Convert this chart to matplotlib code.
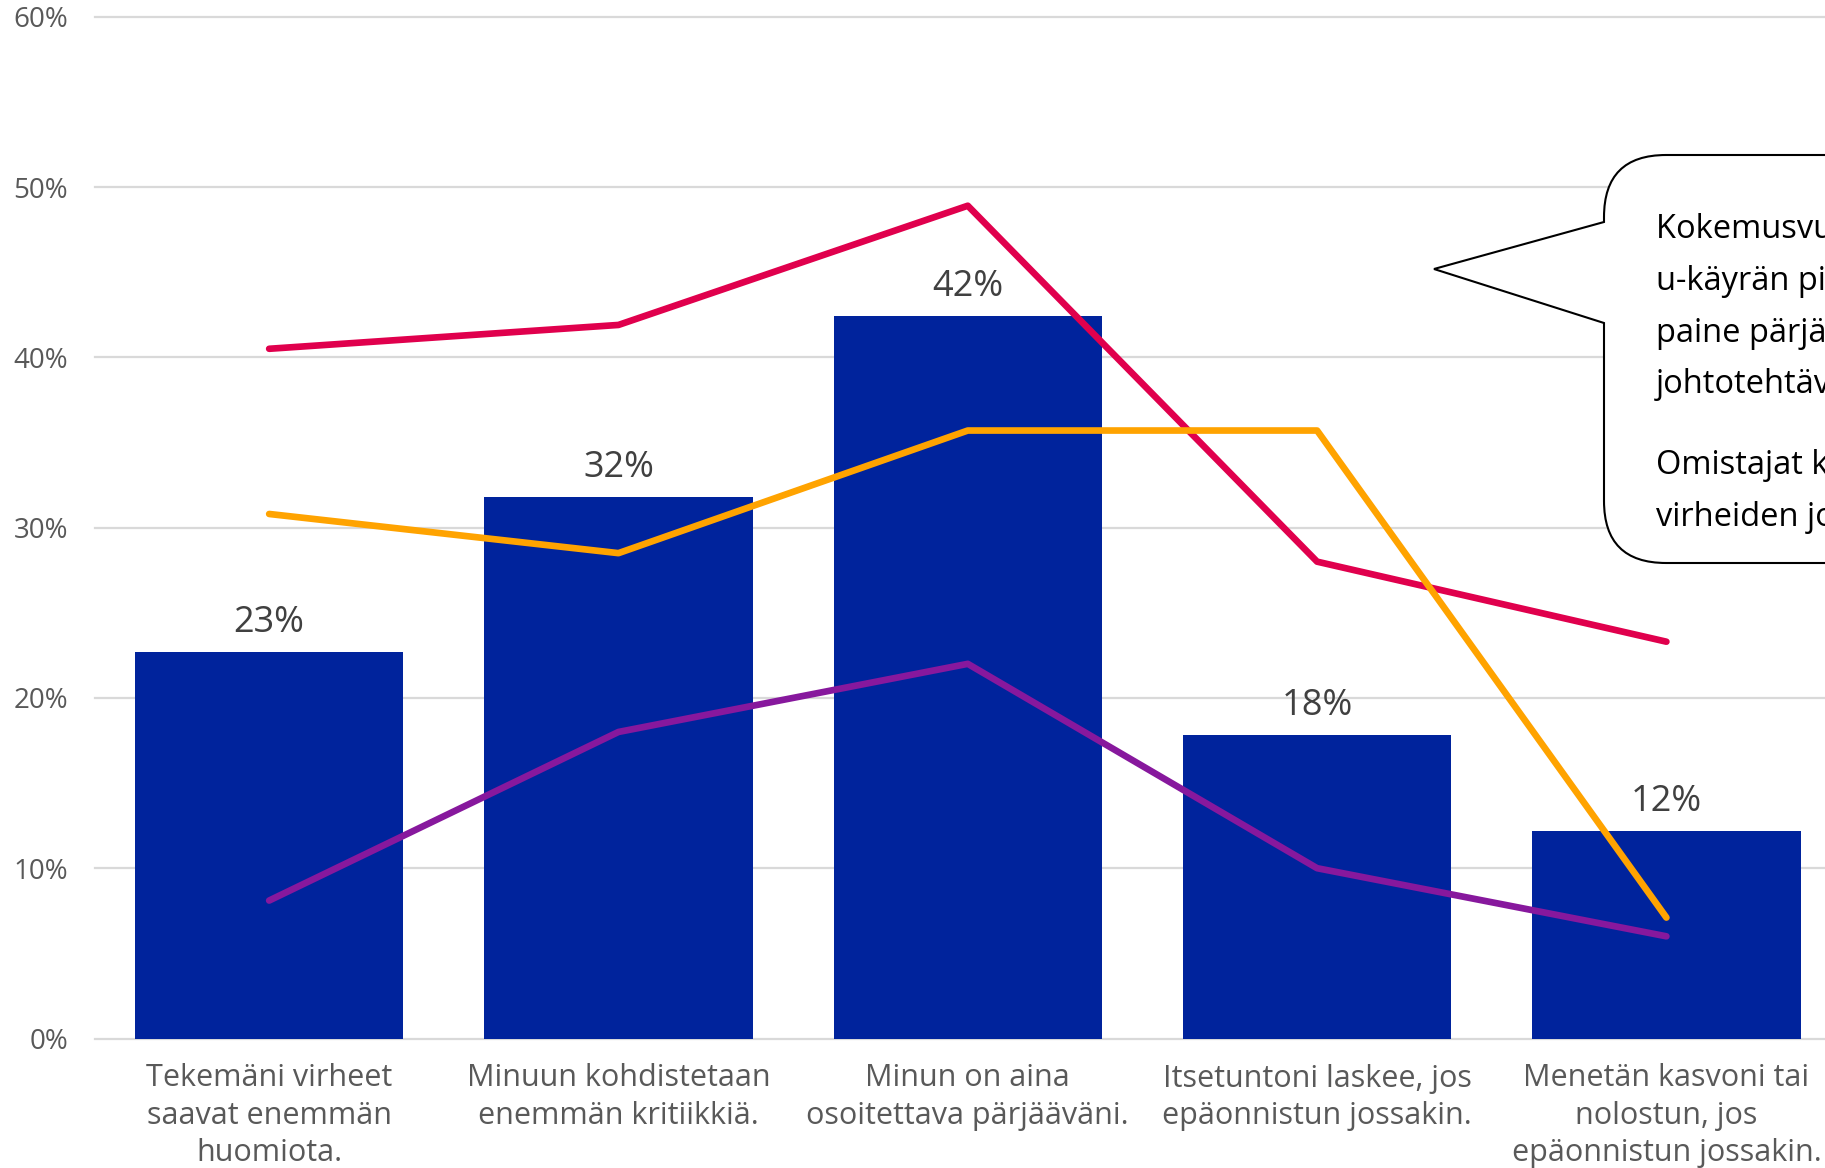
import matplotlib
matplotlib.use("Agg")
import matplotlib.pyplot as plt
from matplotlib.path import Path
from matplotlib.patches import PathPatch

plt.rcParams["font.family"] = ["Open Sans", "DejaVu Sans"]

# --- data -------------------------------------------------------------
categories = [
    "Tekemäni virheet\nsaavat enemmän\nhuomiota.",
    "Minuun kohdistetaan\nenemmän kritiikkiä.",
    "Minun on aina\nosoitettava pärjääväni.",
    "Itsetuntoni laskee, jos\nepäonnistun jossakin.",
    "Menetän kasvoni tai\nnolostun, jos\nepäonnistun jossakin.",
]
total = [22.7, 31.8, 42.4, 17.8, 12.2]
mid_career = [40.5, 41.9, 48.9, 28.0, 23.3]
early_career = [30.8, 28.5, 35.7, 35.7, 7.1]
owners = [8.1, 18.0, 22.0, 10.0, 6.0]
y_ticks = [0, 10, 20, 30, 40, 50, 60]

callout_lines = [
    "Kokemusvuosissa näkyy",
    "u-käyrän piirre: suurin",
    "paine pärjätä on",
    "johtotehtävien keskivaiheilla.",
]
callout_lines_2 = [
    "Omistajat kokevat vähiten",
    "virheiden johtavan kritiikkiin.",
]

BAR_COLOR = "#00239C"
RED = "#E0004D"
ORANGE = "#FFA300"
PURPLE = "#87189D"

W, H = 1825, 1168
fig = plt.figure(figsize=(W / 100, H / 100), dpi=100)
left_px, bottom_px, top_px = 94.5, 1038.5, 16.7
ax = fig.add_axes([left_px / W, 1 - bottom_px / H, 1 - left_px / W,
                   (bottom_px - top_px) / H])

x = list(range(len(categories)))
ax.bar(x, total, width=0.768, color=BAR_COLOR, zorder=2)
for series, col in ((mid_career, RED), (early_career, ORANGE), (owners, PURPLE)):
    ax.plot(x, series, color=col, lw=4.8, solid_capstyle="round",
            solid_joinstyle="round", zorder=3)

for xi, v in zip(x, total):
    ax.annotate(f"{v:.0f}%", (xi, v), xytext=(0, 14.5), textcoords="offset points",
                ha="center", va="baseline", fontsize=26, color="#404040", zorder=4)

ax.set_xlim(-0.5, 4.454)
ax.set_ylim(0, 60)
ax.set_yticks(y_ticks)
ax.set_yticklabels([f"{t}%" for t in y_ticks])
ax.set_xticks(x)
ax.set_xticklabels(categories, linespacing=1.31)
ax.tick_params(axis="y", length=0, pad=19, labelsize=20, labelcolor="#595959")
ax.tick_params(axis="x", length=0, pad=18, labelsize=22, labelcolor="#595959")
for s in ax.spines.values():
    s.set_visible(False)
ax.yaxis.grid(True, color="#D9D9D9", lw=1.6, zorder=0)
ax.set_axisbelow(True)
for gl in ax.get_ygridlines():
    gl.set_clip_on(False)

# --- speech-bubble callout (pixel coordinates on an overlay) ----------
ov = fig.add_axes([0, 0, 1, 1], zorder=5)
ov.set_xlim(0, W)
ov.set_ylim(H, 0)
ov.axis("off")
ov.patch.set_alpha(0)

bx, btop, bbot, r = 1604, 155, 563, 62
verts = [
    (bx + r, btop), (2100, btop), (2100, bbot), (bx + r, bbot),
    (bx, bbot), (bx, bbot - r),
    (bx, 323), (1434, 269), (bx, 222),
    (bx, btop + r), (bx, btop), (bx + r, btop),
    (bx + r, btop),
]
codes = [
    Path.MOVETO, Path.LINETO, Path.LINETO, Path.LINETO,
    Path.CURVE3, Path.CURVE3,
    Path.LINETO, Path.LINETO, Path.LINETO,
    Path.LINETO, Path.CURVE3, Path.CURVE3,
    Path.CLOSEPOLY,
]
ov.add_patch(PathPatch(Path(verts, codes), facecolor="white", edgecolor="black",
                       lw=1.5, clip_on=False))

tx = 1656
base = 238.3
step = 51.7
for i, line in enumerate(callout_lines):
    ov.text(tx, base + i * step, line, fontsize=23.5, color="black",
            va="baseline", ha="left", clip_on=False)
base2 = 474
for i, line in enumerate(callout_lines_2):
    ov.text(tx, base2 + i * step, line, fontsize=23.5, color="black",
            va="baseline", ha="left", clip_on=False)

fig.savefig("out.png", dpi=100)
